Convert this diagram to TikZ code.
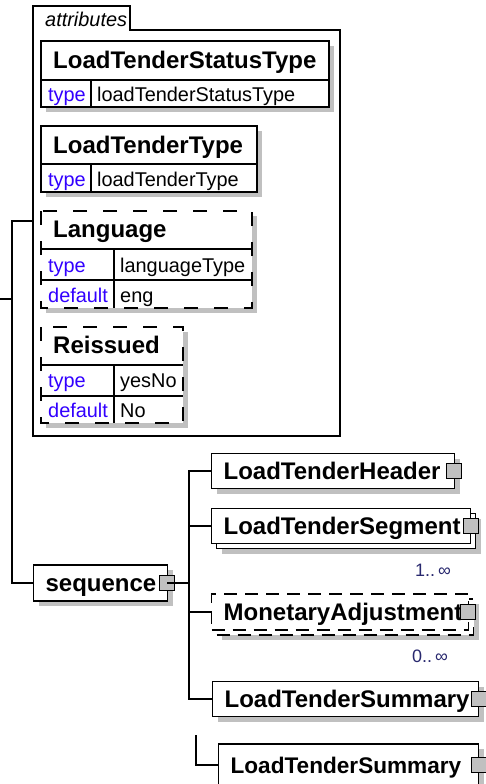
\documentclass[tikz,border=0pt]{standalone}
\usepackage{fontspec}
\setmainfont{Liberation Sans}
\usetikzlibrary{positioning,shadows}
\definecolor{attrblue}{RGB}{50,0,255}
\definecolor{shadowgray}{RGB}{192,192,192}
\definecolor{occurblue}{RGB}{40,40,110}
\newcommand{\elemfont}{\fontsize{24pt}{28pt}\selectfont\bfseries}
\newcommand{\attrfont}{\fontsize{19.9pt}{23pt}\selectfont}
\newcommand{\occurfont}{\fontsize{18pt}{21pt}\selectfont}
\begin{document}
\begin{tikzpicture}[x=1pt, y=-1pt,
  wire/.style={line width=1.2pt},
  dashwire/.style={line width=1.2pt, dash pattern=on 14pt off 16pt},
  shadowbox/.style={fill=shadowgray, draw=none},
  attrname/.style={anchor=base west, inner sep=0pt, font=\elemfont},
  attrkey/.style={anchor=base west, inner sep=0pt, font=\attrfont, text=attrblue},
  attrval/.style={anchor=base west, inner sep=0pt, font=\attrfont},
  elem/.style={draw, fill=white, line width=1.2pt, anchor=west,
    minimum height=35pt, inner xsep=12pt, inner ysep=0pt,
    text height=17.2pt, text depth=0pt, align=left, font=\elemfont},
  single/.style={drop shadow={shadow xshift=5pt, shadow yshift=-5pt, fill=shadowgray, opacity=1}},
  multi/.style={drop shadow={shadow xshift=10pt, shadow yshift=-10pt, fill=shadowgray, opacity=1},
    copy shadow={shadow xshift=5pt, shadow yshift=-5pt}},
  optional/.style={dash pattern=on 13pt off 8pt},
  expander/.style={draw, fill=shadowgray, line width=1pt, minimum size=15pt, inner sep=0pt},
  occur/.style={anchor=base west, inner sep=0pt, font=\occurfont, text=occurblue}]
  \useasboundingbox (0,0) rectangle (486,784);
  \clip (0,0) rectangle (486,784);

  % Attributes container with its tab
  \draw[wire] (33,436) -- (33,6) -- (130,6) -- (130,30) -- (340,30) -- (340,436) -- cycle;
  \node[attrval, font=\attrfont\itshape] (attrtab) at (45,27) {attributes};

  % LoadTenderStatusType
  \fill[shadowbox] (46,46) rectangle (334,112);
  \draw[wire, fill=white] (41,41) rectangle (329,107);
  \draw[wire] (41,80) -- (329,80) (91,80) -- (91,107);
  \node[attrname] (ltsthead) at (53,68) {LoadTenderStatusType};
  \node[attrkey] (ltstkey) at (48,101) {type};
  \node[attrval] (ltstval) at (97,101) {loadTenderStatusType};

  % LoadTenderType
  \fill[shadowbox] (46,131) rectangle (262,197);
  \draw[wire, fill=white] (41,126) rectangle (257,192);
  \draw[wire] (41,164) -- (257,164) (91,164) -- (91,192);
  \node[attrname] (ltthead) at (53,153) {LoadTenderType};
  \node[attrkey] (lttkey) at (48,186) {type};
  \node[attrval] (lttval) at (97,186) {loadTenderType};

  % Language (optional)
  \fill[shadowbox] (46,216) rectangle (257,313);
  \fill[white] (41,211) rectangle (252,308);
  \draw[dashwire] (41,211) rectangle (252,308);
  \draw[wire] (41,249) -- (252,249) (41,280) -- (252,280) (114,249) -- (114,308);
  \node[attrname] (langhead) at (53,237) {Language};
  \node[attrkey] (langkey) at (48,272) {type};
  \node[attrval] (langval) at (120,272) {languageType};
  \node[attrkey] (langdefkey) at (48,302) {default};
  \node[attrval] (langdefval) at (120,302) {eng};

  % Reissued (optional)
  \fill[shadowbox] (46,332) rectangle (188,428);
  \fill[white] (41,327) rectangle (183,423);
  \draw[dashwire] (41,327) rectangle (183,423);
  \draw[wire] (41,365) -- (183,365) (41,396) -- (183,396) (114,365) -- (114,423);
  \node[attrname] (reishead) at (53,353) {Reissued};
  \node[attrkey] (reiskey) at (48,387) {type};
  \node[attrval] (reisval) at (120,387) {yesNo};
  \node[attrkey] (reisdefkey) at (48,417) {default};
  \node[attrval] (reisdefval) at (120,417) {No};

  % sequence and its children
  \node[elem, single, text width=110pt, minimum height=36pt] (seq) at (33,583) {sequence};
  \node[expander] (seqx) at ([xshift=-1pt]seq.east) {};

  \node[elem, single, text width=219pt] (hdr) at (211,471) {LoadTenderHeader};
  \node[expander] (hdrx) at ([xshift=-1.5pt]hdr.east) {};

  \node[elem, multi, text width=235pt] (seg) at (211,526) {LoadTenderSegment};
  \node[expander] (segx) at (seg.east) {};
  \node[occur] (segocc) at (415,576) {1..\,∞};

  \node[elem, multi, optional, text width=233pt, minimum height=36pt] (monadj) at (211,612) {MonetaryAdjustment};
  \node[expander] (monadjx) at ([xshift=-1pt]monadj.east) {};
  \node[occur] (monadjocc) at (412,662) {0..\,∞};

  \node[elem, single, text width=242pt] (summ) at (212,699) {LoadTenderSummary};
  \node[expander] (summx) at ([xshift=-0.5pt]summ.east) {};

  \node[elem, single, text width=236pt, minimum height=42pt,
    font=\fontsize{22.6pt}{26pt}\selectfont\bfseries] (summb) at (218,765) {LoadTenderSummary};
  \node[expander] (summbx) at ([xshift=-0.5pt]summb.east) {};

  % Connectors
  \coordinate (attrin) at (33,221);
  \coordinate (lbus) at (12,299);
  \coordinate (inlet) at (0,299);
  \coordinate (bus) at (189,583);
  \coordinate (tail) at (196,735);
  \draw[wire] (attrin) -| (lbus |- seq.west) -- (seq.west);
  \draw[wire] (inlet) -- (lbus);
  \draw[wire] (seqx.center) -- (bus);
  \draw[wire] (hdr.west) -| (bus |- summ.west) -- (summ.west);
  \draw[wire] (seg.west) -- (seg.west -| bus);
  \draw[wire] (monadj.west) -- (monadj.west -| bus);
  \draw[wire] (tail) |- (summb.west);
\end{tikzpicture}
\end{document}
